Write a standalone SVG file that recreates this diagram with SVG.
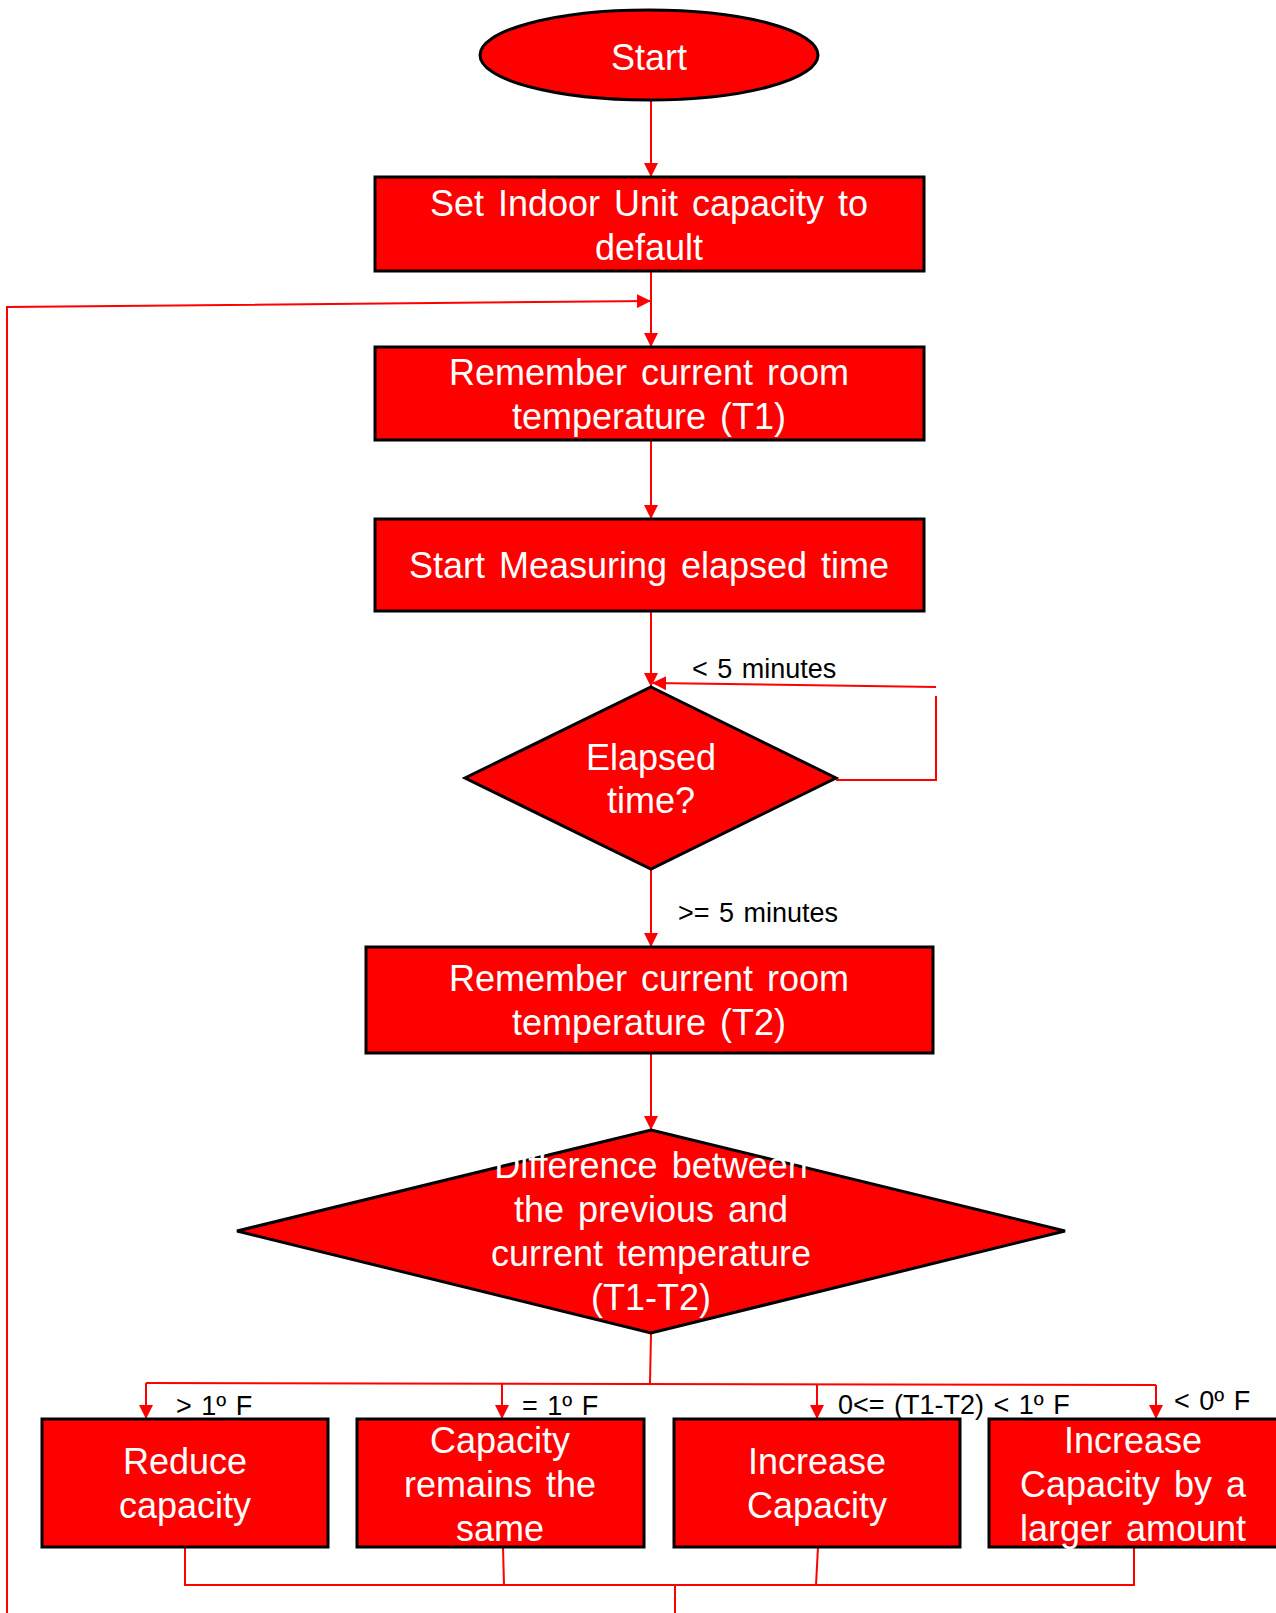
<svg xmlns="http://www.w3.org/2000/svg" width="1276" height="1613" viewBox="0 0 1276 1613">
<style>
.n{fill:#ff0000;stroke:#000;stroke-width:3}
.t{font-family:"Liberation Sans",Arial,sans-serif;font-size:36px;fill:#fff;text-anchor:middle;word-spacing:4px}
.l{font-family:"Liberation Sans",Arial,sans-serif;font-size:27px;fill:#000;word-spacing:2px}
.c{fill:none;stroke:#ff0000;stroke-width:2}
</style>
<defs>
<marker id="a" markerWidth="14" markerHeight="14" refX="13" refY="7" orient="auto" markerUnits="userSpaceOnUse">
<path d="M0,0 L14,7 L0,14 Z" fill="#ff0000"/>
</marker>
</defs>
<rect width="1276" height="1613" fill="#fff"/>
<g id="connectors">
<path class="c" d="M651,100 L651,176" marker-end="url(#a)"/>
<path class="c" d="M651,271 L651,346" marker-end="url(#a)"/>
<path class="c" d="M7,1613 L7,307 L650,301" marker-end="url(#a)"/>
<path class="c" d="M651,440 L651,518" marker-end="url(#a)"/>
<path class="c" d="M651,611 L651,686" marker-end="url(#a)"/>
<path class="c" d="M836,780 L936,780 L936,696"/>
<path class="c" d="M936,687 L653,683" marker-end="url(#a)"/>
<path class="c" d="M651,869 L651,946" marker-end="url(#a)"/>
<path class="c" d="M651,1053 L651,1129" marker-end="url(#a)"/>
<path class="c" d="M651,1333 L650,1383"/>
<path class="c" d="M146,1383 L1156,1385"/>
<path class="c" d="M146,1383 L146,1418" marker-end="url(#a)"/>
<path class="c" d="M502,1384 L502,1418" marker-end="url(#a)"/>
<path class="c" d="M817,1384 L817,1418" marker-end="url(#a)"/>
<path class="c" d="M1156,1385 L1156,1418" marker-end="url(#a)"/>
<path class="c" d="M185,1547 L185,1585 L1134,1585 L1134,1547"/>
<path class="c" d="M503,1547 L504,1585"/>
<path class="c" d="M818,1547 L816,1585"/>
<path class="c" d="M675,1585 L675,1613"/>
</g>
<g id="labels">
<text class="l" x="692" y="678">&lt; 5 minutes</text>
<text class="l" x="678" y="922">&gt;= 5 minutes</text>
<text class="l" x="176" y="1415">&gt; 1º F</text>
<text class="l" x="522" y="1415">= 1º F</text>
<text class="l" x="838" y="1414">0&lt;= (T1-T2) &lt; 1º F</text>
<text class="l" x="1174" y="1410">&lt; 0º F</text>
</g>
<g id="start">
<ellipse class="n" cx="649" cy="55" rx="169" ry="45"/>
<text class="t" x="649" y="70">Start</text>
</g>
<g id="set-default">
<rect class="n" x="375" y="177" width="549" height="94"/>
<text class="t" x="649" y="216">Set Indoor Unit capacity to</text>
<text class="t" x="649" y="260">default</text>
</g>
<g id="remember-t1">
<rect class="n" x="375" y="347" width="549" height="93"/>
<text class="t" x="649" y="385">Remember current room</text>
<text class="t" x="649" y="429">temperature (T1)</text>
</g>
<g id="start-measuring">
<rect class="n" x="375" y="519" width="549" height="92"/>
<text class="t" x="649" y="578">Start Measuring elapsed time</text>
</g>
<g id="elapsed">
<polygon class="n" points="651,687 836,778 651,869 465,778"/>
<text class="t" x="651" y="770">Elapsed</text>
<text class="t" x="651" y="813">time?</text>
</g>
<g id="remember-t2">
<rect class="n" x="366" y="947" width="567" height="106"/>
<text class="t" x="649" y="991">Remember current room</text>
<text class="t" x="649" y="1035">temperature (T2)</text>
</g>
<g id="difference">
<polygon class="n" points="651,1130 1065,1231 651,1333 237,1231"/>
<text class="t" x="651" y="1178">Difference between</text>
<text class="t" x="651" y="1222">the previous and</text>
<text class="t" x="651" y="1266">current temperature</text>
<text class="t" x="651" y="1310">(T1-T2)</text>
</g>
<g id="reduce">
<rect class="n" x="42" y="1419" width="286" height="128"/>
<text class="t" x="185" y="1474">Reduce</text>
<text class="t" x="185" y="1518">capacity</text>
</g>
<g id="same">
<rect class="n" x="357" y="1419" width="287" height="128"/>
<text class="t" x="500" y="1453">Capacity</text>
<text class="t" x="500" y="1497">remains the</text>
<text class="t" x="500" y="1541">same</text>
</g>
<g id="increase">
<rect class="n" x="674" y="1419" width="286" height="128"/>
<text class="t" x="817" y="1474">Increase</text>
<text class="t" x="817" y="1518">Capacity</text>
</g>
<g id="increase-more">
<rect class="n" x="989" y="1419" width="300" height="128"/>
<text class="t" x="1133" y="1453">Increase</text>
<text class="t" x="1133" y="1497">Capacity by a</text>
<text class="t" x="1133" y="1541">larger amount</text>
</g>
</svg>
